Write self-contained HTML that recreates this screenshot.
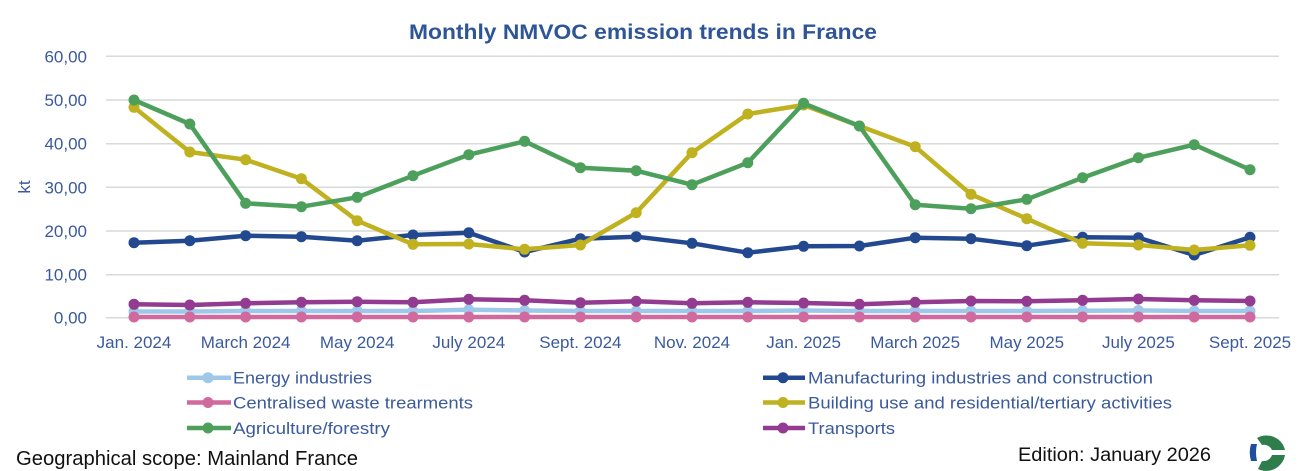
<!DOCTYPE html>
<html>
<head>
<meta charset="utf-8">
<style>
  html,body{margin:0;padding:0;background:#fff;}
  svg{display:block;}
  text{font-family:"Liberation Sans", sans-serif;}
</style>
</head>
<body>
<svg width="1305" height="471" viewBox="0 0 1305 471" xmlns="http://www.w3.org/2000/svg">
  <rect width="1305" height="471" fill="#ffffff"/>

  <!-- Title -->
  <text x="409" y="39" font-size="21" font-weight="bold" fill="#2E5597" textLength="468" lengthAdjust="spacingAndGlyphs">Monthly NMVOC emission trends in France</text>

  <!-- Gridlines -->
  <g stroke="#d9d9d9" stroke-width="1.5">
    <line x1="106" y1="56.3" x2="1279" y2="56.3"/>
    <line x1="106" y1="100" x2="1279" y2="100"/>
    <line x1="106" y1="143.7" x2="1279" y2="143.7"/>
    <line x1="106" y1="187.3" x2="1279" y2="187.3"/>
    <line x1="106" y1="231" x2="1279" y2="231"/>
    <line x1="106" y1="274.7" x2="1279" y2="274.7"/>
    <line x1="106" y1="317.7" x2="1279" y2="317.7"/>
  </g>

  <!-- Y tick labels -->
  <g font-size="17" fill="#3A5A9C" text-anchor="end">
    <text x="87" y="62.3">60,00</text>
    <text x="87" y="106">50,00</text>
    <text x="87" y="149.7">40,00</text>
    <text x="87" y="193.3">30,00</text>
    <text x="87" y="237">20,00</text>
    <text x="87" y="280.7">10,00</text>
    <text x="87" y="323.7">0,00</text>
  </g>
  <text x="0" y="0" font-size="17" fill="#3A5A9C" text-anchor="middle" transform="translate(30,187) rotate(-90)">kt</text>

  <!-- X tick labels -->
  <g font-size="17" fill="#3A5A9C" text-anchor="middle">
    <text x="134" y="348">Jan. 2024</text>
    <text x="245.6" y="348">March 2024</text>
    <text x="357.2" y="348">May 2024</text>
    <text x="468.8" y="348">July 2024</text>
    <text x="580.4" y="348">Sept. 2024</text>
    <text x="692" y="348">Nov. 2024</text>
    <text x="803.6" y="348">Jan. 2025</text>
    <text x="915.2" y="348">March 2025</text>
    <text x="1026.8" y="348">May 2025</text>
    <text x="1138.4" y="348">July 2025</text>
    <text x="1250" y="348">Sept. 2025</text>
  </g>

  <!-- Series: Energy industries -->
  <g stroke="#9DC8EA" fill="#9DC8EA">
    <polyline fill="none" stroke-width="4.5" stroke-linejoin="round" points="134,311.5 189.8,311.5 245.6,311 301.4,311 357.2,311 413,311 468.8,309.8 524.6,310.5 580.4,311 636.2,311 692,311 747.8,311 803.6,310.5 859.4,311 915.2,311 971,311 1026.8,311 1082.6,310.8 1138.4,310.5 1194.2,311 1250,311"/>
    <g stroke="none">
      <circle cx="134" cy="311.5" r="5.5"/><circle cx="189.8" cy="311.5" r="5.5"/><circle cx="245.6" cy="311" r="5.5"/><circle cx="301.4" cy="311" r="5.5"/><circle cx="357.2" cy="311" r="5.5"/><circle cx="413" cy="311" r="5.5"/><circle cx="468.8" cy="309.8" r="5.5"/><circle cx="524.6" cy="310.5" r="5.5"/><circle cx="580.4" cy="311" r="5.5"/><circle cx="636.2" cy="311" r="5.5"/><circle cx="692" cy="311" r="5.5"/><circle cx="747.8" cy="311" r="5.5"/><circle cx="803.6" cy="310.5" r="5.5"/><circle cx="859.4" cy="311" r="5.5"/><circle cx="915.2" cy="311" r="5.5"/><circle cx="971" cy="311" r="5.5"/><circle cx="1026.8" cy="311" r="5.5"/><circle cx="1082.6" cy="310.8" r="5.5"/><circle cx="1138.4" cy="310.5" r="5.5"/><circle cx="1194.2" cy="311" r="5.5"/><circle cx="1250" cy="311" r="5.5"/>
    </g>
  </g>

  <!-- Series: Manufacturing -->
  <g stroke="#22498F" fill="#22498F">
    <polyline fill="none" stroke-width="4.5" stroke-linejoin="round" points="134,242.7 189.8,240.7 245.6,235.7 301.4,236.7 357.2,240.7 413,235 468.8,232.7 524.6,252 580.4,238.7 636.2,236.7 692,243.3 747.8,252.7 803.6,246.3 859.4,246 915.2,237.7 971,238.7 1026.8,245.7 1082.6,237.3 1138.4,237.7 1194.2,255 1250,237.3"/>
    <g stroke="none">
      <circle cx="134" cy="242.7" r="5.5"/><circle cx="189.8" cy="240.7" r="5.5"/><circle cx="245.6" cy="235.7" r="5.5"/><circle cx="301.4" cy="236.7" r="5.5"/><circle cx="357.2" cy="240.7" r="5.5"/><circle cx="413" cy="235" r="5.5"/><circle cx="468.8" cy="232.7" r="5.5"/><circle cx="524.6" cy="252" r="5.5"/><circle cx="580.4" cy="238.7" r="5.5"/><circle cx="636.2" cy="236.7" r="5.5"/><circle cx="692" cy="243.3" r="5.5"/><circle cx="747.8" cy="252.7" r="5.5"/><circle cx="803.6" cy="246.3" r="5.5"/><circle cx="859.4" cy="246" r="5.5"/><circle cx="915.2" cy="237.7" r="5.5"/><circle cx="971" cy="238.7" r="5.5"/><circle cx="1026.8" cy="245.7" r="5.5"/><circle cx="1082.6" cy="237.3" r="5.5"/><circle cx="1138.4" cy="237.7" r="5.5"/><circle cx="1194.2" cy="255" r="5.5"/><circle cx="1250" cy="237.3" r="5.5"/>
    </g>
  </g>

  <!-- Series: Centralised waste -->
  <g stroke="#D06A9E" fill="#D06A9E">
    <polyline fill="none" stroke-width="4.5" stroke-linejoin="round" points="134,317 1250,317"/>
    <g stroke="none">
      <circle cx="134" cy="317" r="5.5"/><circle cx="189.8" cy="317" r="5.5"/><circle cx="245.6" cy="317" r="5.5"/><circle cx="301.4" cy="317" r="5.5"/><circle cx="357.2" cy="317" r="5.5"/><circle cx="413" cy="317" r="5.5"/><circle cx="468.8" cy="317" r="5.5"/><circle cx="524.6" cy="317" r="5.5"/><circle cx="580.4" cy="317" r="5.5"/><circle cx="636.2" cy="317" r="5.5"/><circle cx="692" cy="317" r="5.5"/><circle cx="747.8" cy="317" r="5.5"/><circle cx="803.6" cy="317" r="5.5"/><circle cx="859.4" cy="317" r="5.5"/><circle cx="915.2" cy="317" r="5.5"/><circle cx="971" cy="317" r="5.5"/><circle cx="1026.8" cy="317" r="5.5"/><circle cx="1082.6" cy="317" r="5.5"/><circle cx="1138.4" cy="317" r="5.5"/><circle cx="1194.2" cy="317" r="5.5"/><circle cx="1250" cy="317" r="5.5"/>
    </g>
  </g>

  <!-- Series: Building -->
  <g stroke="#BFB11F" fill="#BFB11F">
    <polyline fill="none" stroke-width="4.5" stroke-linejoin="round" points="134,107.3 189.8,152 245.6,159.7 301.4,178.7 357.2,220.7 413,244.3 468.8,244 524.6,249.3 580.4,245 636.2,212.7 692,152.7 747.8,114 803.6,105 859.4,126 915.2,146.7 971,194.3 1026.8,218.7 1082.6,243.3 1138.4,245 1194.2,250 1250,245.3"/>
    <g stroke="none">
      <circle cx="134" cy="107.3" r="5.5"/><circle cx="189.8" cy="152" r="5.5"/><circle cx="245.6" cy="159.7" r="5.5"/><circle cx="301.4" cy="178.7" r="5.5"/><circle cx="357.2" cy="220.7" r="5.5"/><circle cx="413" cy="244.3" r="5.5"/><circle cx="468.8" cy="244" r="5.5"/><circle cx="524.6" cy="249.3" r="5.5"/><circle cx="580.4" cy="245" r="5.5"/><circle cx="636.2" cy="212.7" r="5.5"/><circle cx="692" cy="152.7" r="5.5"/><circle cx="747.8" cy="114" r="5.5"/><circle cx="803.6" cy="105" r="5.5"/><circle cx="859.4" cy="126" r="5.5"/><circle cx="915.2" cy="146.7" r="5.5"/><circle cx="971" cy="194.3" r="5.5"/><circle cx="1026.8" cy="218.7" r="5.5"/><circle cx="1082.6" cy="243.3" r="5.5"/><circle cx="1138.4" cy="245" r="5.5"/><circle cx="1194.2" cy="250" r="5.5"/><circle cx="1250" cy="245.3" r="5.5"/>
    </g>
  </g>

  <!-- Series: Agriculture -->
  <g stroke="#4DA05C" fill="#4DA05C">
    <polyline fill="none" stroke-width="4.5" stroke-linejoin="round" points="134,100 189.8,124 245.6,203.3 301.4,206.7 357.2,197.3 413,175.7 468.8,154.7 524.6,141.3 580.4,167.7 636.2,170.7 692,184.7 747.8,162.7 803.6,103.3 859.4,126 915.2,204.7 971,208.7 1026.8,199.3 1082.6,177.7 1138.4,157.7 1194.2,144.7 1250,169.7"/>
    <g stroke="none">
      <circle cx="134" cy="100" r="5.5"/><circle cx="189.8" cy="124" r="5.5"/><circle cx="245.6" cy="203.3" r="5.5"/><circle cx="301.4" cy="206.7" r="5.5"/><circle cx="357.2" cy="197.3" r="5.5"/><circle cx="413" cy="175.7" r="5.5"/><circle cx="468.8" cy="154.7" r="5.5"/><circle cx="524.6" cy="141.3" r="5.5"/><circle cx="580.4" cy="167.7" r="5.5"/><circle cx="636.2" cy="170.7" r="5.5"/><circle cx="692" cy="184.7" r="5.5"/><circle cx="747.8" cy="162.7" r="5.5"/><circle cx="803.6" cy="103.3" r="5.5"/><circle cx="859.4" cy="126" r="5.5"/><circle cx="915.2" cy="204.7" r="5.5"/><circle cx="971" cy="208.7" r="5.5"/><circle cx="1026.8" cy="199.3" r="5.5"/><circle cx="1082.6" cy="177.7" r="5.5"/><circle cx="1138.4" cy="157.7" r="5.5"/><circle cx="1194.2" cy="144.7" r="5.5"/><circle cx="1250" cy="169.7" r="5.5"/>
    </g>
  </g>

  <!-- Series: Transports -->
  <g stroke="#923B90" fill="#923B90">
    <polyline fill="none" stroke-width="4.5" stroke-linejoin="round" points="134,304.3 189.8,305 245.6,303.3 301.4,302.3 357.2,301.7 413,302.3 468.8,299.3 524.6,300.3 580.4,302.7 636.2,301.3 692,303.3 747.8,302.3 803.6,303 859.4,304.3 915.2,302.3 971,301 1026.8,301.3 1082.6,300.3 1138.4,299 1194.2,300.3 1250,301"/>
    <g stroke="none">
      <circle cx="134" cy="304.3" r="5.5"/><circle cx="189.8" cy="305" r="5.5"/><circle cx="245.6" cy="303.3" r="5.5"/><circle cx="301.4" cy="302.3" r="5.5"/><circle cx="357.2" cy="301.7" r="5.5"/><circle cx="413" cy="302.3" r="5.5"/><circle cx="468.8" cy="299.3" r="5.5"/><circle cx="524.6" cy="300.3" r="5.5"/><circle cx="580.4" cy="302.7" r="5.5"/><circle cx="636.2" cy="301.3" r="5.5"/><circle cx="692" cy="303.3" r="5.5"/><circle cx="747.8" cy="302.3" r="5.5"/><circle cx="803.6" cy="303" r="5.5"/><circle cx="859.4" cy="304.3" r="5.5"/><circle cx="915.2" cy="302.3" r="5.5"/><circle cx="971" cy="301" r="5.5"/><circle cx="1026.8" cy="301.3" r="5.5"/><circle cx="1082.6" cy="300.3" r="5.5"/><circle cx="1138.4" cy="299" r="5.5"/><circle cx="1194.2" cy="300.3" r="5.5"/><circle cx="1250" cy="301" r="5.5"/>
    </g>
  </g>

  <!-- Legend left -->
  <g stroke-width="4.5">
    <line x1="187" y1="377.7" x2="231" y2="377.7" stroke="#9DC8EA"/>
    <line x1="187" y1="402.5" x2="231" y2="402.5" stroke="#D06A9E"/>
    <line x1="187" y1="428" x2="231" y2="428" stroke="#4DA05C"/>
  </g>
  <circle cx="208" cy="377.7" r="5.5" fill="#9DC8EA"/>
  <circle cx="208" cy="402.5" r="5.5" fill="#D06A9E"/>
  <circle cx="208" cy="428" r="5.5" fill="#4DA05C"/>
  <g font-size="17" fill="#3A5A9C">
    <text x="233" y="383.5" textLength="139" lengthAdjust="spacingAndGlyphs">Energy industries</text>
    <text x="233" y="408.3" textLength="240" lengthAdjust="spacingAndGlyphs">Centralised waste trearments</text>
    <text x="233" y="433.8" textLength="157" lengthAdjust="spacingAndGlyphs">Agriculture/forestry</text>
  </g>

  <!-- Legend right -->
  <g stroke-width="4.5">
    <line x1="763" y1="377.7" x2="805" y2="377.7" stroke="#22498F"/>
    <line x1="763" y1="402.5" x2="805" y2="402.5" stroke="#BFB11F"/>
    <line x1="763" y1="428" x2="805" y2="428" stroke="#923B90"/>
  </g>
  <circle cx="783" cy="377.7" r="5.5" fill="#22498F"/>
  <circle cx="783" cy="402.5" r="5.5" fill="#BFB11F"/>
  <circle cx="783" cy="428" r="5.5" fill="#923B90"/>
  <g font-size="17" fill="#3A5A9C">
    <text x="808" y="383.5" textLength="345" lengthAdjust="spacingAndGlyphs">Manufacturing industries and construction</text>
    <text x="808" y="408.3" textLength="364" lengthAdjust="spacingAndGlyphs">Building use and residential/tertiary activities</text>
    <text x="808" y="433.8" textLength="87" lengthAdjust="spacingAndGlyphs">Transports</text>
  </g>

  <!-- Footer -->
  <text x="16" y="465" font-size="20" fill="#111111" textLength="342" lengthAdjust="spacingAndGlyphs">Geographical scope: Mainland France</text>
  <text x="1018" y="461" font-size="19" fill="#111111" textLength="193" lengthAdjust="spacingAndGlyphs">Edition: January 2026</text>

  <!-- Logo -->
  <path d="M1257,438 A19,19 0 0 1 1285,450 L1272,450 A9,9 0 0 0 1262,445 Z" fill="#2E7D4A"/>
  <path d="M1285,455 L1272,455 A9,9 0 0 1 1262,461 L1258,469 A19,19 0 0 0 1285,455 Z" fill="#2E7D4A"/>
  <path d="M1251,444 Q1248.5,452 1251,461 L1257,461 Q1255,452 1257,444 Z" fill="#1F4E9A"/>
</svg>
</body>
</html>
